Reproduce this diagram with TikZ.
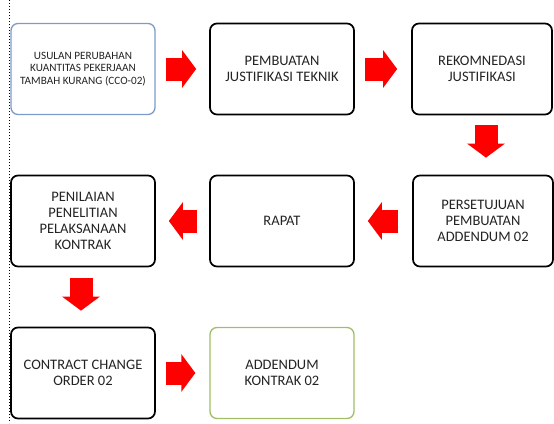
\documentclass[tikz,border=0pt]{standalone}
\usepackage{fontspec}
\setmainfont{Carlito}
\usetikzlibrary{arrows.meta}
\definecolor{boxblue}{RGB}{125,155,200}
\definecolor{boxgreen}{RGB}{160,190,100}
\definecolor{txtgray}{RGB}{35,35,35}
\tikzset{
  box/.style={draw=black, line width=1.7pt, rounded corners=7pt, align=center, text=txtgray,
    font=\fontsize{14.5}{16}\selectfont, minimum width=144pt, minimum height=91pt, inner sep=2pt},
  redarrow/.style={draw=red, line width=23pt, -{Triangle[length=14pt,width=37pt]}, red}
}
\begin{document}
\begin{tikzpicture}[x=1pt,y=-1pt]
\useasboundingbox (0,0) rectangle (554,423);
\draw[dotted, line width=1pt] (9.5,0) -- (9.5,423);
\node[box, draw=boxblue, line width=1.3pt, font=\fontsize{11.2}{12.5}\selectfont] (usulan) at (83,69)
  {USULAN PERUBAHAN\\KUANTITAS PEKERJAAN\\TAMBAH KURANG (CCO-02)};
\node[box] (pembuatan) at (282,69) {PEMBUATAN\\JUSTIFIKASI TEKNIK};
\node[box, minimum width=140pt] (rekom) at (482,69) {REKOMNEDASI\\JUSTIFIKASI};
\node[box, minimum width=140pt] (setuju) at (483,221) {PERSETUJUAN\\PEMBUATAN\\ADDENDUM 02};
\node[box] (rapat) at (282,221) {RAPAT};
\node[box] (penilaian) at (83,221) {PENILAIAN\\PENELITIAN\\PELAKSANAAN\\KONTRAK};
\node[box] (cco) at (83,373) {CONTRACT CHANGE\\ORDER 02};
\node[box, draw=boxgreen, line width=1.3pt] (addendum) at (282,373) {ADDENDUM\\KONTRAK 02};
\draw[redarrow] ([xshift=10pt]usulan.east) -- ([xshift=-13pt]pembuatan.west);
\draw[redarrow] ([xshift=10pt]pembuatan.east) -- ([xshift=-14pt]rekom.west);
\draw[redarrow] ([xshift=4pt,yshift=-10pt]rekom.south) -- ([xshift=3pt,yshift=17pt]setuju.north);
\draw[redarrow] ([xshift=-14pt]setuju.west) -- ([xshift=13pt]rapat.east);
\draw[redarrow] ([xshift=-12pt]rapat.west) -- ([xshift=13pt]penilaian.east);
\draw[redarrow] ([xshift=-2pt,yshift=-11pt]penilaian.south) -- ([xshift=-2pt,yshift=16pt]cco.north);
\draw[redarrow] ([xshift=10pt]cco.east) -- ([xshift=-14pt]addendum.west);
\end{tikzpicture}
\end{document}
